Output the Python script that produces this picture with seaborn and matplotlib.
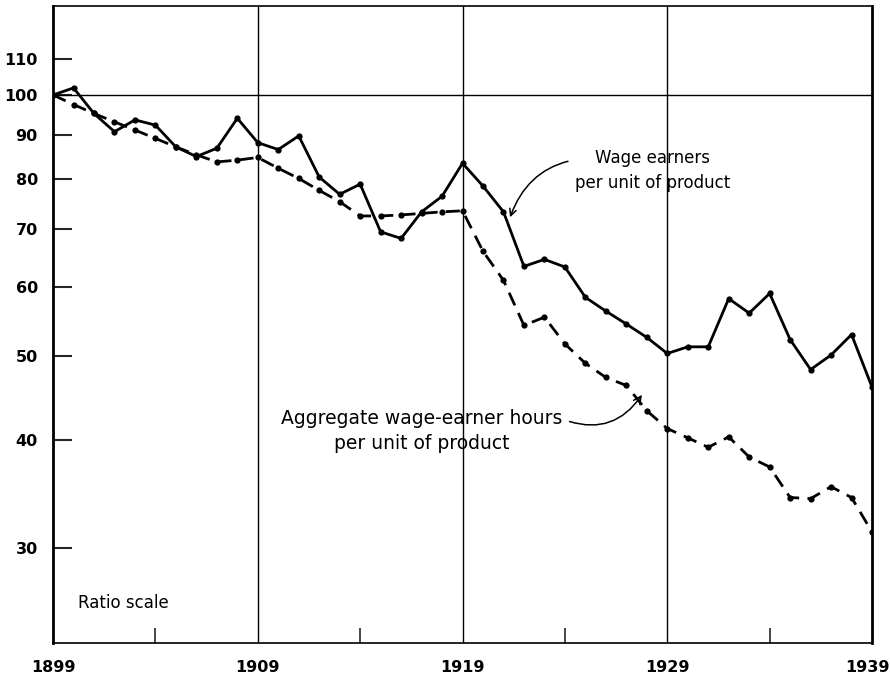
import numpy as np
import pandas as pd
import matplotlib
matplotlib.use("Agg")
import matplotlib.pyplot as plt
import matplotlib.transforms as mtransforms
import seaborn as sns

# index numbers, 1899 = 100
years = list(range(1899, 1940))
wage_earners = [100, 101.9, 95.2, 90.7, 93.6, 92.3, 87.1, 84.9, 86.8, 94.0,
                88.1, 86.5, 89.7, 80.4, 76.8, 78.9, 69.5, 68.3, 73.3, 76.4,
                83.4, 78.5, 73.3, 63.4, 64.6, 63.3, 58.4, 56.3, 54.4, 52.5,
                50.3, 51.2, 51.2, 58.2, 56.0, 59.0, 52.2, 48.2, 50.1, 52.9,
                46.0]
manhours = [100, 97.5, 95.2, 93.1, 91.1, 89.1, 87.1, 85.3, 83.7, 84.1,
            84.7, 82.3, 80.1, 77.6, 75.3, 72.5, 72.5, 72.7, 73.0, 73.3,
            73.5, 66.0, 61.1, 54.2, 55.4, 51.6, 49.0, 47.2, 46.2, 43.2,
            41.2, 40.2, 39.2, 40.3, 38.2, 37.2, 34.3, 34.2, 35.3, 34.3,
            31.3]

y_ticks = [30, 40, 50, 60, 70, 80, 90, 100, 110]
x_labels = [1899, 1909, 1919, 1929, 1939]
x_minor = [1904, 1914, 1924, 1934]
grid_years = [1909, 1919, 1929]

df = pd.DataFrame({"year": years, "wage": wage_earners, "hours": manhours})

sns.set_style("white")
plt.rcParams['font.family'] = ['DejaVu Sans']
plt.rcParams['text.color'] = 'black'

fig = plt.figure(figsize=(8.9, 6.86), dpi=100)
ax = fig.add_axes([0.0596, 0.0627, 0.9202, 0.9286])

# reference lines
for gy in grid_years:
    ax.axvline(gy, color='black', lw=1.0, zorder=1)
ax.axhline(100, color='black', lw=1.0, zorder=1)

sns.lineplot(data=df, x="year", y="wage", ax=ax, color='black', lw=2.0,
             marker='o', markersize=4.5, markeredgewidth=0, zorder=3)
sns.lineplot(data=df, x="year", y="hours", ax=ax, color='black', lw=2.0,
             marker='o', markersize=4.5, markeredgewidth=0, zorder=3,
             dashes=False, linestyle=(0, (5, 3)))

ax.set_yscale('log')
ax.set_ylim(23.3, 126.7)
ax.set_xlim(1899, 1939)

tick_font = dict(fontsize=11.5, fontweight='bold')
ax.set_yticks(y_ticks)
ax.set_yticklabels([str(v) for v in y_ticks], **tick_font)
ax.yaxis.set_minor_locator(matplotlib.ticker.NullLocator())
ax.set_xticks(x_labels)
ax.set_xticklabels([str(v) for v in x_labels], **tick_font)
ax.set_xticks(x_minor, minor=True)

ax.tick_params(axis='y', direction='in', length=14, width=1.5, pad=11,
               left=True, labelcolor='black')
ax.tick_params(axis='x', which='major', length=0, pad=12, labelcolor='black')
ax.tick_params(axis='x', which='minor', direction='in', length=11, width=1.2,
               bottom=True)
ax.set_xlabel('')
ax.set_ylabel('')

# keep the last year label inside the picture
last = ax.get_xticklabels()[-1]
last.set_transform(last.get_transform() +
                   mtransforms.ScaledTranslation(-5 / 100, 0, fig.dpi_scale_trans))

for side in ['left', 'right']:
    ax.spines[side].set_linewidth(2.0)
for side in ['top', 'bottom']:
    ax.spines[side].set_linewidth(1.2)
for sp in ax.spines.values():
    sp.set_color('black')

# annotations
ax.annotate('Wage earners\nper unit of product', xy=(1921.3, 72.0),
            xytext=(1928.3, 81.9), ha='center', va='center', fontsize=12,
            linespacing=1.5,
            arrowprops=dict(arrowstyle='->', color='black', lw=1.1,
                            connectionstyle='arc3,rad=0.35',
                            relpos=(0.12, 0.78), shrinkA=3, shrinkB=1))
ax.annotate('Aggregate wage-earner hours\nper unit of product',
            xy=(1927.8, 45.2), xytext=(1917.0, 40.9), ha='center',
            va='center', fontsize=13.5, linespacing=1.4,
            arrowprops=dict(arrowstyle='->', color='black', lw=1.1,
                            connectionstyle='arc3,rad=0.4',
                            relpos=(1.0, 0.78), shrinkA=3, shrinkB=1))
ax.text(1900.2, 25.9, 'Ratio scale', fontsize=12, ha='left', va='center')

fig.savefig('out.png', dpi=100)
